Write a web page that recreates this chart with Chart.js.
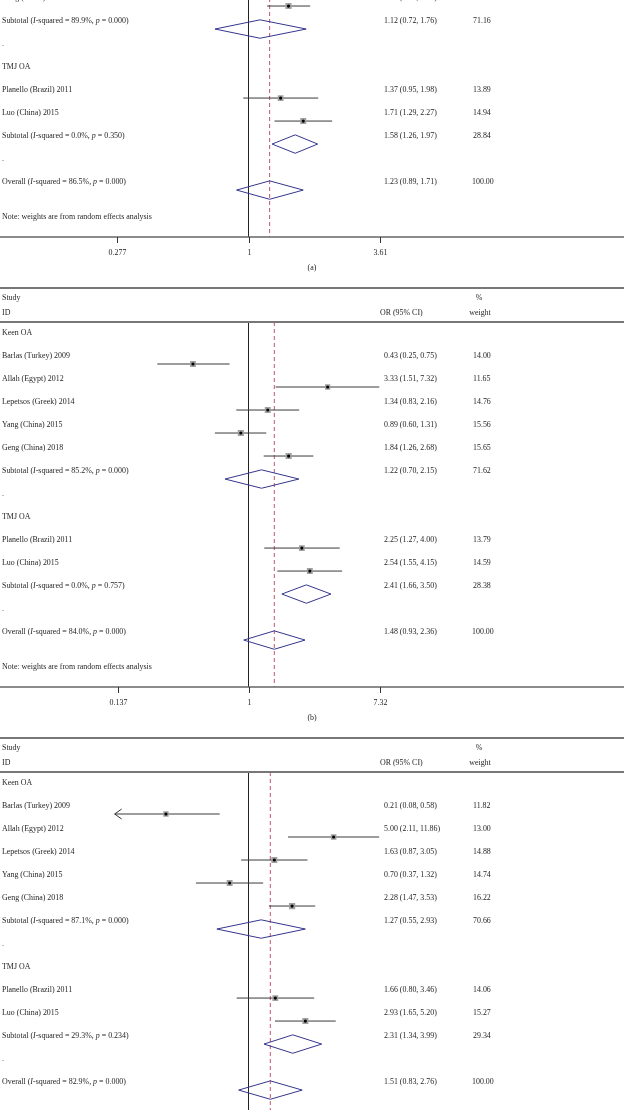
<!DOCTYPE html>
<html>
<head>
<meta charset="utf-8">
<script src="https://cdn.jsdelivr.net/npm/chart.js@4"></script>
<style>
  html, body { margin: 0; padding: 0; background: #fff; }
  body { width: 624px; height: 1110px; overflow: hidden; position: relative; }
  .panel { position: absolute; left: 0; width: 624px; height: 450px; }
</style>
</head>
<body>
<div class="panel" style="top:-163px"><canvas id="plotA" width="624" height="450"></canvas></div>
<div class="panel" style="top:287px"><canvas id="plotB" width="624" height="450"></canvas></div>
<div class="panel" style="top:737px"><canvas id="plotC" width="624" height="450"></canvas></div>
<script>
"use strict";

// studies, same in every panel
const keenStudies = ["Barlas (Turkey) 2009", "Allah (Egypt) 2012", "Lepetsos (Greek) 2014", "Yang (China) 2015", "Geng (China) 2018"];
const tmjStudies = ["Planello (Brazil) 2011", "Luo (China) 2015"];
const groups = ["Keen OA", "TMJ OA"];

// panel (a) - only the bottom of it is on the page
const orA = [null, null, null, null, 1.48, 1.37, 1.71];
const loA = [null, null, null, null, 1.20, 0.95, 1.29];
const hiA = [null, null, null, null, 1.83, 1.98, 2.27];
const wtA = [null, null, null, null, 15.75, 13.89, 14.94];
const subOrA = [1.12, 1.58];
const subLoA = [0.72, 1.26];
const subHiA = [1.76, 1.97];
const subWtA = [71.16, 28.84];
const subI2A = ["89.9", "0.0"];
const subPA = ["0.000", "0.350"];
const allA = [1.23, 0.89, 1.71];
const allStatA = ["86.5", "0.000"];
const ticksA = ["0.277", "1", "3.61"];

// panel (b)
const orB = [0.43, 3.33, 1.34, 0.89, 1.84, 2.25, 2.54];
const loB = [0.25, 1.51, 0.83, 0.60, 1.26, 1.27, 1.55];
const hiB = [0.75, 7.32, 2.16, 1.31, 2.68, 4.00, 4.15];
const wtB = [14.00, 11.65, 14.76, 15.56, 15.65, 13.79, 14.59];
const subOrB = [1.22, 2.41];
const subLoB = [0.70, 1.66];
const subHiB = [2.15, 3.50];
const subWtB = [71.62, 28.38];
const subI2B = ["85.2", "0.0"];
const subPB = ["0.000", "0.757"];
const allB = [1.48, 0.93, 2.36];
const allStatB = ["84.0", "0.000"];
const ticksB = ["0.137", "1", "7.32"];

// panel (c) - axis is cut off at the bottom
const orC = [0.21, 5.00, 1.63, 0.70, 2.28, 1.66, 2.93];
const loC = [0.08, 2.11, 0.87, 0.37, 1.47, 0.80, 1.65];
const hiC = [0.58, 11.86, 3.05, 1.32, 3.53, 3.46, 5.20];
const wtC = [11.82, 13.00, 14.88, 14.74, 16.22, 14.06, 15.27];
const subOrC = [1.27, 2.31];
const subLoC = [0.55, 1.34];
const subHiC = [2.93, 3.99];
const subWtC = [70.66, 29.34];
const subI2C = ["87.1", "29.3"];
const subPC = ["0.000", "0.234"];
const allC = [1.51, 0.83, 2.76];
const allStatC = ["82.9", "0.000"];
const ticksC = ["0.0843", "1", "11.9"];

const FONT = "'Liberation Serif', 'Times New Roman', serif";
const FS = 9;
const SX = 0.88; // the original type is narrower than Times
const TXT = "#1e1e1e";
const NAVY = "#35358f";
const Y_MIN = -0.826, Y_MAX = 15.04;

// row positions: 0 group, 1-5 keen, 6 subtotal, 7 dot, 8 group, 9-10 tmj, 11 subtotal, 12 dot, 13 overall
const studyRows = [1, 2, 3, 4, 5, 9, 10];
const subRows = [6, 11];

function fmt(v) { return v.toFixed(2); }

// condensed text, align left or center
function txt(ctx, s, x, y, center, italic) {
  ctx.font = (italic ? "italic " : "") + FS + "px " + FONT;
  const w = ctx.measureText(s).width * SX;
  ctx.save();
  ctx.translate(center ? x - w / 2 : x, y);
  ctx.scale(SX, 1);
  ctx.textAlign = "left";
  ctx.fillText(s, 0, 0);
  ctx.restore();
  return w;
}

// draws text runs, some in italic
function drawRuns(ctx, runs, x, y) {
  runs.forEach(function(r) {
    x += txt(ctx, r[0], x, y, false, r[1]);
  });
}

function hetRuns(head, i2, p) {
  return [[head + " (", false], ["I", true], ["-squared = " + i2 + "%, ", false], ["p", true], [" = " + p + ")", false]];
}

function makePanel(id, tag, or, lo, hi, wt, subOr, subLo, subHi, subWt, subI2, subP, all, allStat, tickLabels) {
  const axisMax = parseFloat(tickLabels[2]);
  const axisMin = parseFloat(tickLabels[0]);
  const datasets = [];

  // null line and overall line
  datasets.push({ data: [{x: 1, y: Y_MIN}, {x: 1, y: Y_MAX}], showLine: true, borderColor: "#222", borderWidth: 1, pointRadius: 0, order: 3 });
  datasets.push({ data: [{x: all[0], y: Y_MIN}, {x: all[0], y: Y_MAX}], showLine: true, borderColor: "#c0566c", borderWidth: 1, borderDash: [4, 3], pointRadius: 0, order: 3 });

  // confidence intervals
  for (let i = 0; i < or.length; i++) {
    if (or[i] == null) continue;
    datasets.push({ data: [{x: lo[i], y: studyRows[i]}, {x: hi[i], y: studyRows[i]}], showLine: true, borderColor: "#3a3a3a", borderWidth: 1, pointRadius: 0, order: 2 });
  }

  // weighted boxes and centre dots
  const boxes = [], dots = [], sizes = [];
  for (let i = 0; i < or.length; i++) {
    if (or[i] == null) continue;
    boxes.push({x: or[i], y: studyRows[i]});
    dots.push({x: or[i], y: studyRows[i]});
    sizes.push(Math.sqrt(wt[i]) * 1.1);
  }
  datasets.push({ data: boxes, pointStyle: "rect", pointRadius: sizes, pointBackgroundColor: "#a0a0a0", pointBorderWidth: 0, showLine: false, order: 1 });
  datasets.push({ data: dots, pointStyle: "circle", pointRadius: 1.6, pointBackgroundColor: "#000", pointBorderColor: "#000", pointBorderWidth: 0, showLine: false, order: 0 });

  // diamonds
  function diamond(est, l, h, row) {
    datasets.push({ data: [{x: l, y: row}, {x: est, y: row - 0.4}, {x: h, y: row}, {x: est, y: row + 0.4}, {x: l, y: row}],
      showLine: true, borderColor: NAVY, borderWidth: 1, pointRadius: 0, tension: 0, order: 2 });
  }
  for (let g = 0; g < 2; g++) diamond(subOr[g], subLo[g], subHi[g], subRows[g]);
  diamond(all[0], all[1], all[2], 13);

  const textPlugin = {
    id: "forestText",
    afterDraw(chart) {
      const ctx = chart.ctx;
      const xs = chart.scales.x, ys = chart.scales.y;
      const area = chart.chartArea;
      const ty = v => ys.getPixelForValue(v) - 8;
      ctx.save();
      ctx.fillStyle = TXT;
      ctx.textBaseline = "middle";

      // frame lines
      ctx.strokeStyle = "#777";
      ctx.lineWidth = 2;
      ctx.beginPath(); ctx.moveTo(0, 1); ctx.lineTo(624, 1); ctx.stroke();
      ctx.beginPath(); ctx.moveTo(0, area.top); ctx.lineTo(624, area.top); ctx.stroke();

      // header
      txt(ctx, "Study", 2, 11);
      txt(ctx, "ID", 2, 26);
      txt(ctx, "OR (95% CI)", 380, 26);
      txt(ctx, "%", 479, 11, true);
      txt(ctx, "weight", 480, 26, true);

      // rows
      const names = keenStudies.concat(tmjStudies);
      txt(ctx, groups[0], 2, ty(0));
      txt(ctx, groups[1], 2, ty(8));
      txt(ctx, ".", 2, ty(7));
      txt(ctx, ".", 2, ty(12));
      for (let i = 0; i < or.length; i++) {
        const r = studyRows[i];
        txt(ctx, names[i], 2, ty(r));
        if (or[i] == null) continue;
        txt(ctx, fmt(or[i]) + " (" + fmt(lo[i]) + ", " + fmt(hi[i]) + ")", 384, ty(r));
        txt(ctx, fmt(wt[i]), 473, ty(r));
        // arrow when the interval runs off the axis
        if (lo[i] < axisMin) {
          const px = xs.getPixelForValue(axisMin) - 3, py = ys.getPixelForValue(r);
          ctx.strokeStyle = "#333"; ctx.lineWidth = 1;
          ctx.beginPath(); ctx.moveTo(px + 7, py - 5); ctx.lineTo(px, py); ctx.lineTo(px + 7, py + 5); ctx.stroke();
          ctx.beginPath(); ctx.moveTo(px, py); ctx.lineTo(area.left, py); ctx.stroke();
        }
      }
      for (let g = 0; g < 2; g++) {
        const r = subRows[g];
        drawRuns(ctx, hetRuns("Subtotal", subI2[g], subP[g]), 2, ty(r));
        txt(ctx, fmt(subOr[g]) + " (" + fmt(subLo[g]) + ", " + fmt(subHi[g]) + ")", 384, ty(r));
        txt(ctx, fmt(subWt[g]), 473, ty(r));
      }
      drawRuns(ctx, hetRuns("Overall", allStat[0], allStat[1]), 2, ty(13));
      txt(ctx, fmt(all[0]) + " (" + fmt(all[1]) + ", " + fmt(all[2]) + ")", 384, ty(13));
      txt(ctx, "100.00", 472, ty(13));
      txt(ctx, "Note: weights are from random effects analysis", 2, ty(14.5));

      // x axis
      ctx.strokeStyle = "#666";
      ctx.lineWidth = 1.5;
      ctx.beginPath(); ctx.moveTo(0, area.bottom); ctx.lineTo(624, area.bottom); ctx.stroke();
      ctx.lineWidth = 1;
      ctx.strokeStyle = "#333";
      tickLabels.forEach(function(t) {
        const px = Math.round(xs.getPixelForValue(parseFloat(t))) + 0.5;
        ctx.beginPath(); ctx.moveTo(px, area.bottom); ctx.lineTo(px, area.bottom + 6); ctx.stroke();
        txt(ctx, t, px, area.bottom + 16, true);
      });
      txt(ctx, tag, 312, area.bottom + 31, true);
      ctx.restore();
    }
  };

  return new Chart(document.getElementById(id), {
    type: "scatter",
    data: { datasets: datasets },
    options: {
      responsive: false,
      animation: false,
      events: [],
      layout: { padding: { left: 117.5, right: 244.5, top: 35, bottom: 50 } },
      plugins: { legend: { display: false }, tooltip: { enabled: false } },
      scales: {
        x: { type: "logarithmic", min: 1 / axisMax, max: axisMax, bounds: "data", display: false },
        y: { type: "linear", reverse: true, min: Y_MIN, max: Y_MAX, bounds: "data", display: false }
      }
    },
    plugins: [textPlugin]
  });
}

makePanel("plotA", "(a)", orA, loA, hiA, wtA, subOrA, subLoA, subHiA, subWtA, subI2A, subPA, allA, allStatA, ticksA);
makePanel("plotB", "(b)", orB, loB, hiB, wtB, subOrB, subLoB, subHiB, subWtB, subI2B, subPB, allB, allStatB, ticksB);
makePanel("plotC", "(c)", orC, loC, hiC, wtC, subOrC, subLoC, subHiC, subWtC, subI2C, subPC, allC, allStatC, ticksC);
</script>
</body>
</html>
